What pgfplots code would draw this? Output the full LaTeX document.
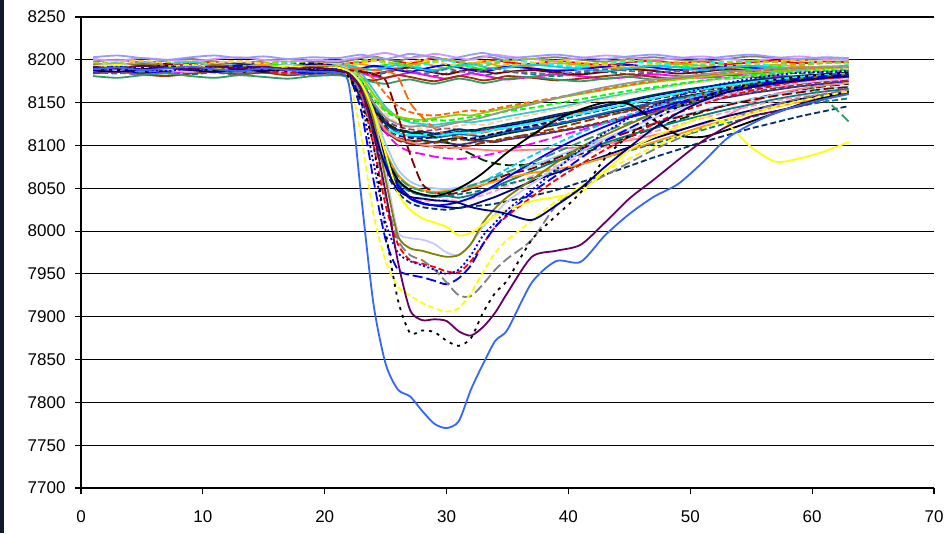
\documentclass[border=0pt]{standalone}
\usepackage{fontspec}
\setmainfont{Liberation Sans}
\usepackage{pgfplots}
\usepackage{pgfplotstable}
\pgfplotsset{compat=1.18}

% Excel-style line palette
\definecolor{xnavy}{HTML}{000080}
\definecolor{xmagenta}{HTML}{FF00FF}
\definecolor{xyellow}{HTML}{FFFF00}
\definecolor{xcyan}{HTML}{00FFFF}
\definecolor{xpurple}{HTML}{660066}
\definecolor{xdarkred}{HTML}{800000}
\definecolor{xteal}{HTML}{008080}
\definecolor{xblue}{HTML}{0000FF}
\definecolor{xsky}{HTML}{00CCFF}
\definecolor{xpaleblue}{HTML}{99CCFF}
\definecolor{xrose}{HTML}{FF99CC}
\definecolor{xlavender}{HTML}{CC99FF}
\definecolor{xtan}{HTML}{FFCC99}
\definecolor{xlightblue}{HTML}{3366FF}
\definecolor{xaqua}{HTML}{33CCCC}
\definecolor{xlime}{HTML}{99CC00}
\definecolor{xgold}{HTML}{FFCC00}
\definecolor{xorange}{HTML}{FF9900}
\definecolor{xorange2}{HTML}{FF6600}
\definecolor{xbluegrey}{HTML}{666699}
\definecolor{xgrey40}{HTML}{969696}
\definecolor{xdarkteal}{HTML}{003366}
\definecolor{xseagreen}{HTML}{339966}
\definecolor{xdarkgreen}{HTML}{003300}
\definecolor{xbrown}{HTML}{993300}
\definecolor{xplum}{HTML}{993366}
\definecolor{xindigo}{HTML}{333399}
\definecolor{xred}{HTML}{FF0000}
\definecolor{xgreen}{HTML}{00FF00}
\definecolor{xgrey50}{HTML}{808080}
\definecolor{xperiwinkle}{HTML}{9999FF}
\definecolor{xcoral}{HTML}{FF8080}
\definecolor{xocean}{HTML}{0066CC}
\definecolor{xiceblue}{HTML}{C8C8FF}
\definecolor{xdarkyellow}{HTML}{808000}
\definecolor{stripcol}{HTML}{0E1A2E}

\tikzset{
  ds/.style={dash pattern=on 6pt off 3pt},
  ld/.style={dash pattern=on 10pt off 4pt},
  dt/.style={dash pattern=on 2pt off 2.5pt},
  sd/.style={dash pattern=on 3pt off 5pt},
}

% one row per curve, one column per x position
\pgfplotstableread{
name 1 3 5 7 9 11 13 15 17 19 21 22 23 24 25 26 27 28 29 30 31 32 33 34 35 37 39 41 43 45 47 49 51 53 55 57 59 61 63
A1 8196 8194 8197 8193 8195 8198 8194 8196 8193 8195 8194 8196 8197 8199 8201 8198 8196 8199 8202 8200 8197 8195 8198 8200 8197 8195 8199 8196 8194 8197 8199 8196 8198 8195 8197 8199 8196 8198 8197
A2 8190 8192 8188 8191 8189 8187 8190 8192 8189 8188 8190 8191 8189 8192 8194 8196 8193 8190 8188 8191 8194 8192 8189 8191 8193 8190 8188 8191 8193 8190 8188 8192 8190 8187 8190 8192 8189 8191 8190
A3 8186 8184 8187 8185 8183 8186 8188 8185 8184 8186 8185 8187 8184 8182 8185 8188 8186 8183 8181 8184 8187 8185 8182 8184 8186 8183 8181 8184 8186 8183 8185 8187 8184 8182 8185 8187 8184 8186 8185
A4 8198 8200 8197 8199 8201 8198 8196 8199 8201 8198 8197 8199 8202 8204 8201 8199 8202 8205 8203 8200 8198 8201 8204 8202 8199 8201 8203 8200 8198 8201 8203 8200 8198 8201 8204 8202 8199 8201 8200
A5 8192 8190 8193 8195 8192 8190 8193 8191 8194 8192 8190 8193 8195 8192 8189 8191 8194 8196 8193 8190 8192 8195 8197 8194 8191 8193 8196 8194 8191 8189 8192 8195 8193 8190 8192 8194 8192 8190 8191
A6 8188 8186 8189 8187 8185 8188 8190 8187 8185 8187 8188 8186 8184 8181 8179 8182 8185 8183 8180 8178 8181 8184 8182 8179 8177 8180 8183 8181 8178 8180 8183 8181 8179 8182 8184 8181 8179 8182 8181
A7 8194 8196 8193 8191 8194 8196 8193 8195 8197 8194 8192 8194 8197 8199 8196 8193 8191 8194 8197 8199 8196 8193 8195 8198 8200 8197 8194 8192 8195 8198 8196 8193 8195 8198 8196 8193 8195 8197 8195
A8 8184 8186 8183 8181 8184 8186 8183 8185 8182 8184 8183 8181 8178 8176 8179 8182 8180 8177 8175 8178 8181 8179 8176 8178 8181 8179 8176 8178 8181 8183 8180 8178 8181 8183 8180 8178 8181 8183 8182
A9 8201 8199 8202 8200 8198 8201 8203 8200 8198 8200 8199 8201 8203 8206 8208 8205 8202 8204 8207 8205 8202 8200 8203 8206 8204 8201 8199 8202 8205 8203 8200 8202 8204 8201 8199 8202 8204 8201 8200
A10 8189 8191 8188 8186 8189 8192 8190 8187 8189 8191 8189 8187 8190 8193 8191 8188 8186 8189 8192 8194 8191 8188 8186 8189 8192 8190 8187 8189 8192 8194 8191 8188 8190 8193 8191 8188 8190 8192 8190
A11 8195 8197 8199 8196 8194 8197 8199 8196 8194 8196 8195 8193 8196 8199 8197 8194 8197 8200 8198 8195 8193 8196 8199 8197 8194 8196 8199 8197 8194 8192 8195 8198 8196 8193 8195 8198 8200 8197 8196
A12 8186 8188 8185 8187 8190 8187 8185 8188 8186 8184 8186 8189 8187 8184 8186 8189 8191 8188 8185 8183 8186 8189 8187 8184 8186 8188 8185 8183 8186 8189 8187 8184 8186 8189 8187 8185 8187 8189 8188
A13 8191 8189 8192 8194 8191 8189 8187 8190 8192 8189 8191 8193 8190 8188 8191 8194 8192 8189 8187 8190 8193 8195 8192 8189 8191 8194 8192 8189 8187 8190 8193 8191 8188 8191 8193 8190 8188 8191 8190
A14 8197 8195 8193 8196 8198 8195 8193 8196 8198 8196 8194 8196 8199 8201 8198 8195 8193 8196 8199 8201 8198 8196 8193 8196 8199 8201 8198 8195 8197 8200 8198 8195 8193 8196 8199 8197 8194 8196 8198
A15 8187 8185 8183 8186 8188 8185 8183 8186 8184 8182 8185 8187 8185 8183 8186 8189 8187 8184 8186 8189 8187 8185 8188 8190 8187 8185 8183 8186 8189 8187 8185 8187 8190 8188 8186 8189 8187 8185 8186
A16 8203 8205 8202 8200 8203 8205 8202 8204 8201 8203 8202 8204 8206 8203 8201 8204 8207 8205 8202 8200 8203 8206 8208 8205 8202 8204 8206 8203 8201 8204 8206 8203 8201 8204 8206 8203 8201 8203 8202
A17 8181 8179 8182 8184 8181 8179 8182 8180 8178 8181 8182 8180 8177 8174 8172 8175 8177 8174 8172 8175 8178 8176 8173 8175 8178 8180 8177 8175 8178 8180 8177 8179 8181 8178 8180 8182 8180 8182 8181
B1 8192 8190 8193 8191 8189 8192 8190 8188 8191 8193 8190 8188 8175 8150 8128 8118 8115 8113 8112 8114 8116 8118 8117 8120 8123 8128 8134 8140 8146 8152 8158 8163 8167 8172 8175 8178 8181 8183 8185
B2 8188 8190 8187 8189 8191 8188 8186 8189 8191 8188 8186 8178 8155 8130 8115 8108 8105 8106 8104 8107 8109 8106 8108 8111 8114 8119 8124 8130 8137 8143 8150 8156 8161 8166 8170 8174 8177 8179 8181
B3 8194 8196 8193 8195 8197 8194 8192 8195 8193 8191 8194 8192 8184 8165 8145 8133 8127 8125 8124 8126 8128 8127 8129 8131 8134 8139 8144 8150 8156 8161 8166 8171 8175 8179 8182 8185 8187 8189 8190
B4 8186 8188 8185 8187 8189 8186 8184 8187 8185 8187 8188 8185 8170 8148 8130 8122 8119 8117 8118 8120 8118 8116 8118 8121 8119 8122 8126 8131 8135 8140 8146 8151 8157 8162 8166 8170 8173 8176 8178
B5 8191 8193 8190 8188 8191 8193 8190 8192 8189 8191 8192 8190 8180 8160 8142 8134 8131 8130 8132 8134 8136 8135 8138 8141 8144 8149 8155 8160 8165 8170 8174 8177 8180 8183 8185 8187 8189 8190 8191
B6 8189 8187 8190 8192 8189 8187 8190 8188 8186 8189 8190 8184 8162 8135 8116 8107 8103 8102 8104 8103 8101 8103 8106 8104 8107 8111 8116 8121 8127 8133 8139 8145 8151 8156 8161 8165 8169 8172 8175
B7 8196 8194 8197 8195 8193 8196 8198 8195 8193 8196 8194 8190 8177 8156 8137 8126 8121 8120 8122 8121 8123 8125 8124 8127 8130 8136 8142 8148 8154 8160 8165 8170 8174 8178 8181 8184 8186 8188 8189
B8 8190 8192 8189 8187 8190 8192 8189 8191 8188 8190 8189 8186 8172 8147 8126 8115 8111 8110 8109 8111 8113 8112 8110 8113 8116 8120 8125 8131 8138 8144 8150 8155 8160 8164 8168 8172 8175 8178 8180
B9 8187 8189 8191 8188 8186 8189 8191 8188 8190 8192 8189 8190 8188 8178 8160 8146 8139 8136 8135 8137 8139 8141 8140 8143 8146 8151 8156 8161 8166 8171 8175 8179 8182 8185 8187 8189 8190 8191 8192
B10 8193 8191 8194 8192 8190 8193 8195 8192 8190 8193 8191 8187 8168 8143 8125 8118 8115 8116 8114 8116 8119 8117 8120 8122 8125 8130 8136 8141 8147 8153 8159 8164 8168 8172 8176 8179 8181 8183 8184
B11 8188 8186 8189 8191 8188 8186 8189 8191 8188 8186 8188 8184 8165 8138 8115 8100 8093 8090 8087 8085 8084 8086 8088 8091 8095 8102 8110 8118 8126 8134 8141 8148 8154 8159 8164 8168 8172 8175 8177
B12 8195 8193 8196 8194 8192 8195 8193 8191 8194 8196 8193 8189 8170 8142 8122 8112 8109 8108 8110 8112 8110 8108 8111 8114 8117 8123 8129 8136 8142 8148 8154 8159 8164 8168 8172 8175 8178 8181 8183
B13 8190 8188 8191 8193 8190 8188 8191 8189 8187 8190 8191 8190 8189 8188 8187 8180 8150 8133 8120 8112 8110 8113 8115 8118 8121 8126 8132 8138 8143 8149 8155 8160 8165 8169 8173 8177 8180 8182 8184
B14 8192 8194 8191 8189 8192 8194 8191 8193 8195 8192 8190 8188 8176 8155 8140 8132 8129 8128 8130 8129 8131 8133 8135 8137 8140 8144 8149 8154 8159 8164 8168 8172 8176 8179 8182 8184 8186 8187 8188
B15 8189 8191 8188 8190 8192 8189 8187 8190 8188 8186 8189 8183 8163 8137 8120 8114 8112 8113 8111 8113 8115 8114 8116 8119 8121 8126 8131 8137 8143 8149 8155 8161 8166 8170 8174 8177 8180 8182 8184
B16 8191 8189 8192 8190 8188 8191 8193 8190 8188 8191 8190 8186 8170 8145 8127 8119 8116 8114 8110 8104 8097 8090 8083 8079 8077 8078 8082 8090 8100 8110 8120 8130 8139 8147 8154 8160 8165 8169 8172
B17 8186 8188 8185 8187 8189 8186 8188 8190 8187 8185 8187 8184 8172 8150 8133 8125 8122 8123 8121 8124 8127 8130 8133 8137 8141 8148 8155 8162 8168 8173 8177 8180 8183 8186 8188 8190 8191 8192 8193
B18 8194 8192 8190 8193 8195 8192 8190 8193 8191 8189 8192 8188 8168 8140 8120 8109 8106 8105 8103 8105 8107 8106 8104 8106 8109 8113 8117 8122 8128 8135 8141 8147 8153 8158 8163 8167 8171 8174 8176
B19 8190 8192 8189 8187 8190 8192 8189 8191 8193 8190 8188 8185 8168 8140 8118 8106 8102 8100 8098 8097 8098 8100 8103 8105 8108 8114 8120 8127 8134 8141 8148 8154 8160 8165 8169 8173 8176 8179 8181
B20 8188 8186 8189 8191 8188 8186 8189 8187 8185 8188 8187 8183 8165 8138 8118 8108 8104 8101 8099 8098 8097 8096 8095 8094 8094 8095 8096 8098 8102 8106 8112 8118 8125 8135 8150 8160 8166 8170 8173
C1 8190 8188 8191 8189 8187 8190 8192 8189 8187 8190 8188 8182 8160 8120 8082 8058 8047 8042 8040 8041 8039 8042 8046 8052 8058 8070 8082 8093 8103 8112 8120 8128 8135 8142 8148 8154 8159 8163 8166
C2 8193 8191 8194 8192 8190 8193 8191 8189 8192 8194 8191 8186 8165 8125 8085 8055 8040 8033 8030 8028 8027 8030 8035 8040 8046 8058 8068 8078 8088 8098 8108 8117 8126 8134 8141 8148 8154 8159 8163
C3 8188 8190 8187 8189 8191 8188 8186 8189 8187 8185 8188 8183 8163 8128 8092 8065 8052 8047 8045 8046 8048 8052 8058 8065 8073 8088 8102 8115 8126 8136 8145 8153 8160 8166 8171 8175 8178 8180 8181
C4 8191 8193 8190 8188 8191 8193 8190 8192 8189 8191 8190 8185 8158 8115 8075 8050 8040 8036 8035 8037 8035 8038 8042 8047 8053 8064 8076 8087 8098 8107 8116 8124 8132 8139 8146 8152 8157 8161 8164
C5 8195 8193 8196 8194 8192 8195 8193 8191 8194 8192 8193 8189 8172 8140 8102 8072 8058 8052 8050 8049 8051 8054 8057 8061 8066 8076 8087 8098 8108 8117 8126 8134 8141 8148 8154 8159 8163 8166 8169
C6 8187 8189 8186 8188 8190 8187 8185 8188 8186 8184 8187 8180 8155 8112 8070 8045 8033 8028 8026 8025 8027 8029 8030 8032 8035 8041 8048 8057 8066 8076 8086 8095 8104 8112 8120 8127 8134 8140 8146
C7 8192 8190 8193 8195 8192 8190 8193 8191 8189 8192 8190 8188 8186 8183 8176 8135 8090 8055 8046 8043 8045 8049 8054 8060 8066 8073 8085 8096 8106 8116 8125 8133 8140 8147 8153 8158 8162 8166 8168
C8 8189 8187 8190 8192 8189 8187 8185 8188 8190 8187 8189 8184 8162 8123 8083 8057 8046 8042 8040 8041 8043 8045 8048 8051 8055 8062 8070 8078 8086 8094 8102 8110 8118 8126 8133 8140 8146 8151 8155
C9 8194 8192 8195 8193 8191 8194 8192 8194 8191 8193 8192 8187 8168 8132 8093 8066 8053 8048 8046 8047 8049 8051 8054 8058 8062 8068 8072 8078 8086 8095 8104 8113 8122 8130 8138 8145 8151 8156 8160
C10 8186 8188 8185 8187 8189 8186 8188 8190 8187 8185 8188 8183 8160 8118 8078 8052 8038 8032 8030 8031 8034 8039 8046 8054 8063 8080 8096 8110 8122 8133 8142 8150 8157 8163 8168 8172 8175 8178 8180
C11 8190 8192 8189 8191 8193 8190 8188 8191 8189 8187 8190 8185 8165 8128 8090 8064 8052 8047 8044 8046 8049 8053 8058 8063 8069 8080 8092 8104 8116 8127 8137 8146 8154 8162 8168 8173 8177 8155 8128
C12 8187 8189 8186 8188 8190 8187 8189 8186 8188 8190 8187 8186 8166 8128 8088 8060 8048 8043 8041 8044 8050 8058 8068 8080 8092 8112 8130 8142 8150 8148 8130 8112 8110 8118 8128 8138 8148 8156 8163
D1 8189 8191 8188 8190 8192 8189 8187 8190 8188 8186 8185 8170 8040 7915 7845 7815 7807 7790 7775 7770 7778 7815 7845 7872 7885 7940 7965 7964 7995 8020 8040 8055 8080 8108 8125 8138 8147 8154 8160
D2 8192 8190 8193 8191 8189 8192 8190 8192 8189 8191 8188 8183 8165 8115 8045 7965 7908 7896 7897 7895 7883 7878 7888 7905 7928 7970 7977 7984 8010 8038 8060 8083 8105 8122 8134 8140 8146 8154 8161
D3 8190 8188 8191 8193 8190 8188 8191 8189 8187 8190 8188 8180 8150 8100 8000 7920 7881 7884 7882 7872 7866 7875 7905 7928 7943 7990 8018 8045 8085 8112 8130 8145 8155 8165 8172 8177 8180 8183 8185
D4 8193 8191 8189 8192 8194 8191 8189 8192 8190 8188 8191 8178 8110 8020 7965 7935 7925 7916 7910 7906 7910 7928 7952 7975 7990 8012 8035 8052 8070 8085 8098 8110 8120 8130 8138 8145 8152 8158 8163
D5 8187 8189 8186 8188 8190 8187 8185 8188 8190 8187 8186 8182 8160 8110 8040 7990 7972 7966 7955 7940 7925 7924 7938 7955 7968 7990 8030 8050 8065 8080 8095 8108 8120 8130 8140 8148 8155 8160 8165
D6 8191 8193 8190 8192 8189 8191 8193 8190 8192 8189 8190 8180 8140 8060 7990 7955 7949 7946 7942 7938 7945 7960 7985 8005 8020 8045 8065 8085 8105 8120 8135 8148 8157 8165 8170 8175 8178 8181 8183
D7 8188 8190 8187 8189 8191 8188 8190 8187 8185 8188 8189 8183 8158 8100 8030 7985 7966 7962 7958 7953 7952 7965 7985 8005 8018 8040 8060 8078 8095 8110 8125 8138 8148 8157 8164 8170 8175 8178 8180
D8 8194 8192 8195 8193 8191 8194 8192 8190 8193 8191 8192 8185 8168 8130 8060 7995 7980 7977 7973 7970 7972 7985 8010 8027 8040 8060 8080 8098 8112 8125 8137 8148 8157 8164 8170 8175 8178 8181 8183
D9 8189 8187 8190 8188 8186 8189 8191 8188 8186 8189 8190 8186 8170 8135 8070 8000 7992 7990 7985 7975 7972 7985 8005 8020 8035 8055 8075 8092 8108 8120 8132 8142 8150 8158 8164 8169 8173 8176 8178
D10 8192 8194 8191 8189 8192 8190 8188 8191 8193 8190 8191 8186 8172 8140 8090 8045 8025 8015 8010 8005 7995 7998 8008 8018 8025 8035 8040 8046 8070 8095 8110 8122 8133 8125 8098 8081 8085 8093 8104
D11 8190 8192 8189 8187 8190 8192 8189 8191 8188 8190 8189 8182 8150 8080 8010 7975 7965 7960 7955 7950 7955 7972 7995 8010 8025 8048 8072 8095 8115 8132 8146 8158 8167 8173 8178 8182 8185 8186 8187
D12 8188 8186 8189 8191 8188 8186 8189 8187 8190 8188 8187 8184 8165 8120 8075 8048 8040 8038 8036 8035 8033 8028 8025 8023 8020 8013 8030 8050 8075 8098 8120 8138 8152 8162 8168 8173 8176 8179 8181
}\rawcurves
\pgfplotstabletranspose[colnames from=name, input colnames to=x]{\curves}{\rawcurves}

\newcommand\crv[2]{\addplot[#1] table[x=x, y=#2] {\curves};}

\begin{document}
\begin{tikzpicture}[x=1pt, y=1pt]
\useasboundingbox (0,0) rectangle (947,533);
\fill[stripcol] (0,0) rectangle (3.5,533);
\begin{axis}[
  at={(81pt,45pt)}, anchor=south west,
  scale only axis, width=853pt, height=471pt,
  xmin=0, xmax=70, ymin=7700, ymax=8250,
  xtick={0,10,...,70}, ytick={7700,7750,...,8250},
  scaled ticks=false,
  axis x line=bottom, axis y line=left,
  axis line style={-, black, line width=1.2pt},
  ymajorgrids, grid style={black, line width=1.1pt},
  tick align=outside, major tick length=6pt,
  tick style={black, line width=1.1pt},
  ticklabel style={font=\fontsize{17}{20}\selectfont},
  /pgf/number format/assume math mode=true,
  /pgf/number format/1000 sep={},
  yticklabel style={xshift=-6pt},
  xticklabel style={yshift=-13pt},
  every axis plot/.append style={line width=1.8pt, smooth, tension=0.45},
]
% curves that stay level
\crv{xred}{A1}
\crv{xgreen}{A2}
\crv{xteal, ds}{A3}
\crv{xgrey50}{A4}
\crv{xorange}{A5}
\crv{xmagenta}{A6}
\crv{xcyan, ds}{A7}
\crv{xbrown}{A8}
\crv{xlavender}{A9}
\crv{xblue}{A10}
\crv{xgold, ds}{A11}
\crv{xdarkred}{A12}
\crv{xsky}{A13}
\crv{xlime, ds}{A14}
\crv{xbluegrey, ds}{A15}
\crv{xperiwinkle}{A16}
\crv{xseagreen}{A17}
% shallow dips
\crv{xnavy}{B1}
\crv{xdarkgreen}{B2}
\crv{xaqua}{B3}
\crv{xplum, ds}{B4}
\crv{xlime}{B5}
\crv{xindigo}{B6}
\crv{xtan, ds}{B7}
\crv{xocean}{B8}
\crv{xorange2, ds}{B9}
\crv{xdarkteal}{B10}
\crv{xmagenta, ld}{B11}
\crv{xnavy, ds}{B12}
\crv{xorange2, ld}{B13}
\crv{xgreen, ds}{B14}
\crv{xcyan}{B15}
\crv{xdarkgreen, ld}{B16}
\crv{xgrey40}{B17}
\crv{xbrown, ds}{B18}
\crv{xbrown, ld}{B19}
\crv{xcoral}{B20}
% medium dips
\crv{xteal}{C1}
\crv{xnavy}{C2}
\crv{xsky, ds}{C3}
\crv{xrose, ds}{C4}
\crv{xpaleblue}{C5}
\crv{xdarkteal, ds}{C6}
\crv{xdarkred, ld}{C7}
\crv{xteal, ds}{C8}
\crv{xorange}{C9}
\crv{xblue}{C10}
\crv{xseagreen, ld}{C11}
\crv{black}{C12}
% deep dips
\crv{xiceblue}{D9}
\crv{xdarkyellow}{D8}
\crv{xred, ds}{D7}
\crv{xblue, ld}{D6}
\crv{xgrey50, ld}{D5}
\crv{xyellow, ds}{D4}
\crv{xyellow}{D10}
\crv{xblue, dt}{D11}
\crv{xnavy}{D12}
\crv{black, sd}{D3}
\crv{xpurple}{D2}
\crv{xlightblue}{D1}
\end{axis}
\end{tikzpicture}
\end{document}
